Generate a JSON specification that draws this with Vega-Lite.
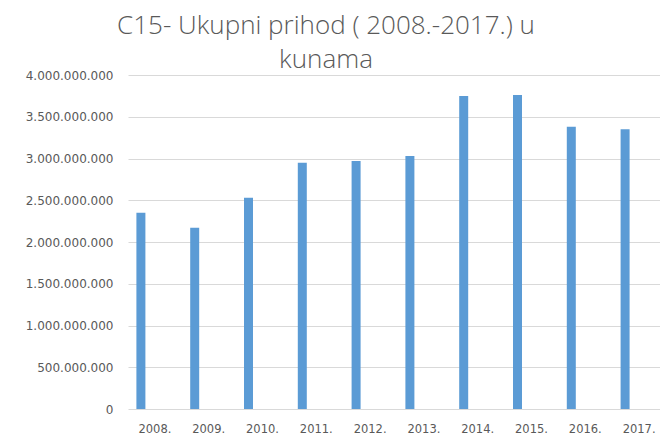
{
  "$schema": "https://vega.github.io/schema/vega-lite/v6.json",
  "autosize": {"type": "none"},
  "padding": {"left": 128, "top": 75, "right": 0, "bottom": 29},
  "width": 532,
  "height": 334,
  "background": "white",
  "config": {
    "locale": {"number": {"decimal": ",", "thousands": ".", "grouping": [3], "currency": ["", ""]}},
    "view": {"stroke": null},
    "font": "DejaVu Sans"
  },
  "title": {
    "text": ["C15- Ukupni prihod ( 2008.-2017.) u", "kunama"],
    "fontSize": 26,
    "fontWeight": 300,
    "color": "#595959",
    "lineHeight": 34,
    "anchor": "middle",
    "dx": -68,
    "offset": -4,
    "font": "Open Sans"
  },
  "data": {
    "values": [
      {"godina": "2008.", "prihod": 2350000000},
      {"godina": "2009.", "prihod": 2170000000},
      {"godina": "2010.", "prihod": 2530000000},
      {"godina": "2011.", "prihod": 2950000000},
      {"godina": "2012.", "prihod": 2970000000},
      {"godina": "2013.", "prihod": 3030000000},
      {"godina": "2014.", "prihod": 3750000000},
      {"godina": "2015.", "prihod": 3760000000},
      {"godina": "2016.", "prihod": 3380000000},
      {"godina": "2017.", "prihod": 3350000000}
    ]
  },
  "mark": {"type": "bar", "color": "#5B9BD5", "width": 9, "xOffset": -14},
  "encoding": {
    "x": {
      "field": "godina",
      "type": "nominal",
      "sort": null,
      "title": null,
      "scale": {"range": [0, 538], "paddingInner": 0, "paddingOuter": 0},
      "axis": {"labelAngle": 0, "domain": false, "ticks": false, "grid": false, "labelPadding": 14, "labelFontSize": 11.5, "labelColor": "#595959"}
    },
    "y": {
      "field": "prihod",
      "type": "quantitative",
      "title": null,
      "scale": {"domain": [0, 4000000000], "nice": false},
      "axis": {"values": [0, 500000000, 1000000000, 1500000000, 2000000000, 2500000000, 3000000000, 3500000000, 4000000000], "format": ",d", "domain": false, "ticks": false, "labelPadding": 15, "labelFontSize": 12, "labelColor": "#595959", "gridColor": "#d9d9d9"}
    }
  }
}
